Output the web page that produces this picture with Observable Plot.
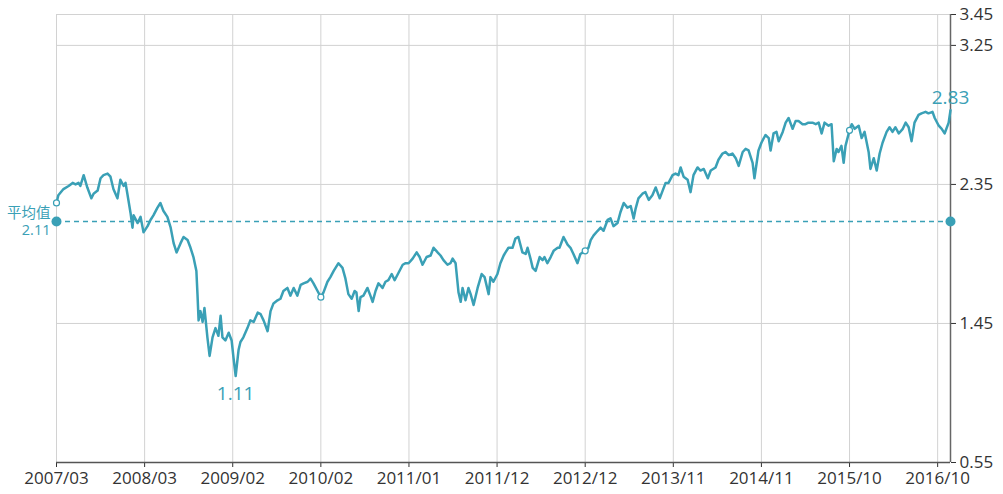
<!DOCTYPE html>
<html>
<head>
<meta charset="utf-8">
<script src="https://cdn.jsdelivr.net/npm/d3@7"></script>
<script src="https://cdn.jsdelivr.net/npm/@observablehq/plot@0.6"></script>
<style>
  html, body { margin: 0; padding: 0; background: #fff; }
  #chart svg { display: block; overflow: visible; }
  #chart svg g[aria-label="x-axis tick label"], #chart svg g[aria-label="y-axis tick label"] { font-size: 17px; }
</style>
</head>
<body>
<div id="chart"></div>
<script>
// x = trading-day index; tick every 240 trading days
const tickIdx = [0, 240, 480, 720, 960, 1200, 1440, 1680, 1920, 2160, 2400];
const tickLabels = ["2007/03", "2008/03", "2009/02", "2010/02", "2011/01", "2011/12", "2012/12", "2013/11", "2014/11", "2015/10", "2016/10"];
const yTicks = [0.55, 1.45, 2.35, 3.25, 3.45];
const lastIdx = 2435;

const dayIdx = [0,5,19,33,44,52,60,65,74,84,95,101,112,120,128,139,147,155,166,174,183,188,193,202,207,210,221,229,237,248,256,264,275,283,291,302,311,319,327,338,346,357,365,373,381,384,387,392,398,403,411,417,425,433,441,447,452,460,469,477,482,488,496,501,509,520,528,537,548,556,564,575,583,591,602,610,618,629,637,646,656,665,673,684,692,700,711,720,727,738,746,755,768,779,787,795,804,812,817,823,828,836,847,855,861,869,877,888,896,904,913,921,932,943,951,959,970,981,989,997,1008,1019,1027,1038,1046,1054,1065,1073,1079,1087,1095,1101,1106,1114,1122,1128,1136,1147,1158,1166,1177,1182,1190,1201,1209,1218,1223,1231,1242,1250,1258,1269,1278,1283,1291,1297,1305,1316,1324,1329,1337,1346,1354,1365,1370,1381,1392,1400,1408,1419,1427,1440,1449,1455,1463,1474,1482,1490,1501,1509,1517,1528,1536,1545,1555,1564,1572,1577,1585,1596,1604,1613,1623,1632,1643,1651,1659,1667,1678,1686,1694,1700,1708,1719,1727,1735,1746,1754,1763,1774,1782,1795,1803,1814,1822,1831,1841,1850,1858,1869,1877,1885,1896,1901,1912,1920,1931,1940,1945,1953,1961,1967,1978,1986,1994,2005,2013,2021,2032,2040,2048,2059,2068,2076,2084,2092,2103,2111,2117,2125,2130,2138,2144,2149,2160,2166,2174,2185,2193,2201,2212,2217,2226,2234,2242,2250,2261,2269,2277,2285,2294,2305,2313,2321,2329,2337,2348,2356,2367,2375,2386,2392,2403,2411,2419,2430,2435];

const nav = [2.23,2.28,2.32,2.34,2.36,2.35,2.36,2.34,2.41,2.33,2.26,2.29,2.31,2.39,2.41,2.42,2.40,2.32,2.26,2.38,2.34,2.36,2.29,2.16,2.07,2.15,2.10,2.14,2.04,2.08,2.12,2.15,2.20,2.23,2.18,2.14,2.07,1.97,1.91,1.97,2.01,1.99,1.94,1.88,1.79,1.64,1.47,1.53,1.46,1.55,1.36,1.24,1.36,1.42,1.37,1.50,1.36,1.34,1.39,1.34,1.23,1.11,1.28,1.33,1.36,1.42,1.47,1.46,1.52,1.51,1.47,1.40,1.53,1.58,1.60,1.61,1.66,1.68,1.63,1.68,1.63,1.70,1.71,1.72,1.74,1.71,1.66,1.62,1.65,1.72,1.75,1.79,1.84,1.81,1.74,1.64,1.61,1.66,1.65,1.53,1.62,1.63,1.68,1.63,1.59,1.66,1.71,1.68,1.72,1.73,1.77,1.73,1.78,1.83,1.84,1.84,1.87,1.91,1.88,1.83,1.88,1.89,1.94,1.91,1.89,1.86,1.83,1.84,1.87,1.84,1.65,1.59,1.68,1.60,1.68,1.64,1.57,1.68,1.77,1.75,1.64,1.75,1.72,1.77,1.84,1.89,1.91,1.94,1.94,2.00,2.01,1.91,1.90,1.94,1.87,1.81,1.79,1.88,1.86,1.88,1.84,1.88,1.92,1.94,1.94,2.01,1.96,1.94,1.90,1.84,1.90,1.92,1.94,1.99,2.02,2.05,2.07,2.05,2.12,2.13,2.08,2.10,2.17,2.23,2.20,2.21,2.13,2.19,2.26,2.29,2.30,2.25,2.28,2.33,2.26,2.31,2.36,2.36,2.41,2.42,2.41,2.46,2.40,2.38,2.30,2.41,2.46,2.44,2.45,2.39,2.44,2.46,2.51,2.55,2.56,2.54,2.55,2.52,2.47,2.56,2.58,2.57,2.49,2.39,2.57,2.62,2.67,2.65,2.57,2.68,2.69,2.63,2.69,2.75,2.78,2.71,2.76,2.76,2.74,2.74,2.75,2.75,2.74,2.75,2.68,2.75,2.73,2.74,2.50,2.58,2.56,2.60,2.49,2.60,2.70,2.74,2.71,2.73,2.65,2.69,2.56,2.45,2.52,2.44,2.55,2.62,2.69,2.72,2.69,2.72,2.68,2.71,2.75,2.72,2.63,2.75,2.80,2.81,2.82,2.81,2.82,2.78,2.73,2.71,2.68,2.75,2.83];

const markerIdx = [0, 720, 1440, 2160];
const markerVal = [2.23, 1.62, 1.92, 2.70];
const avgValue = 2.11;
const avgLabel = "平均值";
const minIdx = 488, minVal = 1.11;
const endIdx = 2435, endVal = 2.83;

const teal = "#3aa0b6";
const series = dayIdx.map((d, i) => ({d, v: nav[i]}));
const markers = markerIdx.map((d, i) => ({d, v: markerVal[i]}));

const chart = Plot.plot({
  width: 1003,
  height: 494,
  marginLeft: 56,
  marginRight: 53,
  marginTop: 14,
  marginBottom: 32,
  style: {fontFamily: "'Open Sans', 'Noto Sans CJK SC', sans-serif", fontSize: "16px", color: "#333", background: "#fff"},
  x: {type: "linear", domain: [0, lastIdx], axis: "bottom", ticks: tickIdx, tickFormat: (d) => tickLabels[tickIdx.indexOf(d)], tickSize: 5, tickPadding: 4, label: null},
  y: {type: "linear", domain: [0.55, 3.45], axis: "right", ticks: yTicks, tickFormat: (d) => d.toFixed(2), tickSize: 5, tickPadding: 4, label: null},
  marks: [
    Plot.ruleX(tickIdx, {stroke: "#d2d2d2", strokeWidth: 1}),
    Plot.ruleY(yTicks, {x1: 0, x2: lastIdx, stroke: "#d2d2d2", strokeWidth: 1}),
    Plot.ruleX([lastIdx], {stroke: "#666", strokeWidth: 1.5}),
    Plot.ruleY([0.55], {x1: 0, x2: lastIdx, stroke: "#555", strokeWidth: 1.5}),
    Plot.ruleY([avgValue], {x1: 0, x2: lastIdx, stroke: teal, strokeWidth: 1.3, strokeDasharray: "5,4"}),
    Plot.line(series, {x: "d", y: "v", stroke: teal, strokeWidth: 2.5, strokeLinejoin: "round"}),
    Plot.dot(markers, {x: "d", y: "v", r: 3, fill: "white", stroke: teal, strokeWidth: 1.2}),
    Plot.dot([0, lastIdx], {x: (d) => d, y: avgValue, r: 5, fill: teal}),
    Plot.text([avgLabel], {x: 0, y: avgValue, dx: -6, dy: -8, textAnchor: "end", fontSize: 14.5, fill: teal}),
    Plot.text([avgValue], {x: 0, y: avgValue, dx: -6, dy: 9, textAnchor: "end", fontSize: 14.5, fill: teal, text: (d) => d.toFixed(2)}),
    Plot.text([minVal], {x: minIdx, y: minVal, dy: 18, fontSize: 19, fill: teal, text: (d) => d.toFixed(2)}),
    Plot.text([endVal], {x: endIdx, y: endVal, dy: -12, fontSize: 19, fill: teal, text: (d) => d.toFixed(2)})
  ]
});
document.getElementById("chart").appendChild(chart);
</script>
</body>
</html>
